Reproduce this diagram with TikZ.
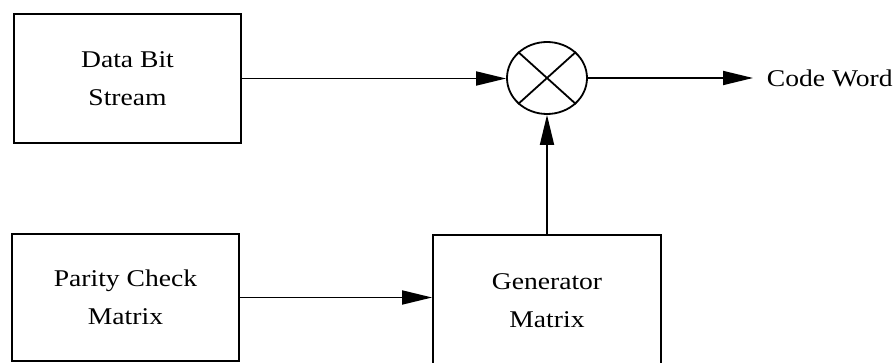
\documentclass[tikz,border=0pt]{standalone}
\usepackage{fontspec}
\setmainfont{Liberation Serif}[FakeStretch=1.15]
\usetikzlibrary{arrows.meta,shapes.geometric}

\begin{document}
\begin{tikzpicture}[x=1pt,y=-1pt,line width=1.8pt,
	block/.style={draw,align=center,font=\fontsize{24}{38}\selectfont},
	flow/.style={-{Triangle[length=30pt,width=14pt]}}]
\useasboundingbox (0,0) rectangle (895,363);

\node[block,minimum width=227pt,minimum height=129pt] (data) at (127.5,78.5) {Data Bit\\Stream};
\node[block,minimum width=227pt,minimum height=127pt] (parity) at (125.5,297.5) {Parity Check\\Matrix};
\node[block,minimum width=228pt,minimum height=131pt] (gen) at (547,300.5) {Generator\\Matrix};
\node[draw,ellipse,minimum width=80pt,minimum height=72pt,inner sep=0pt] (mix) at (547,78) {};
\draw (mix.north west)--(mix.south east) (mix.north east)--(mix.south west);

\coordinate (out) at (753,78);
\node[anchor=west,inner sep=0pt,font=\fontsize{24}{38}\selectfont] (code) at (766,78) {Code Word};

\draw[flow] (data.east)--(data.east -| mix.west);
\draw[flow] (mix.east)--(out);
\draw[flow] (gen.north)--(mix.south);
\draw[flow] (parity.east)--(parity.east -| gen.west);

\end{tikzpicture}
\end{document}
